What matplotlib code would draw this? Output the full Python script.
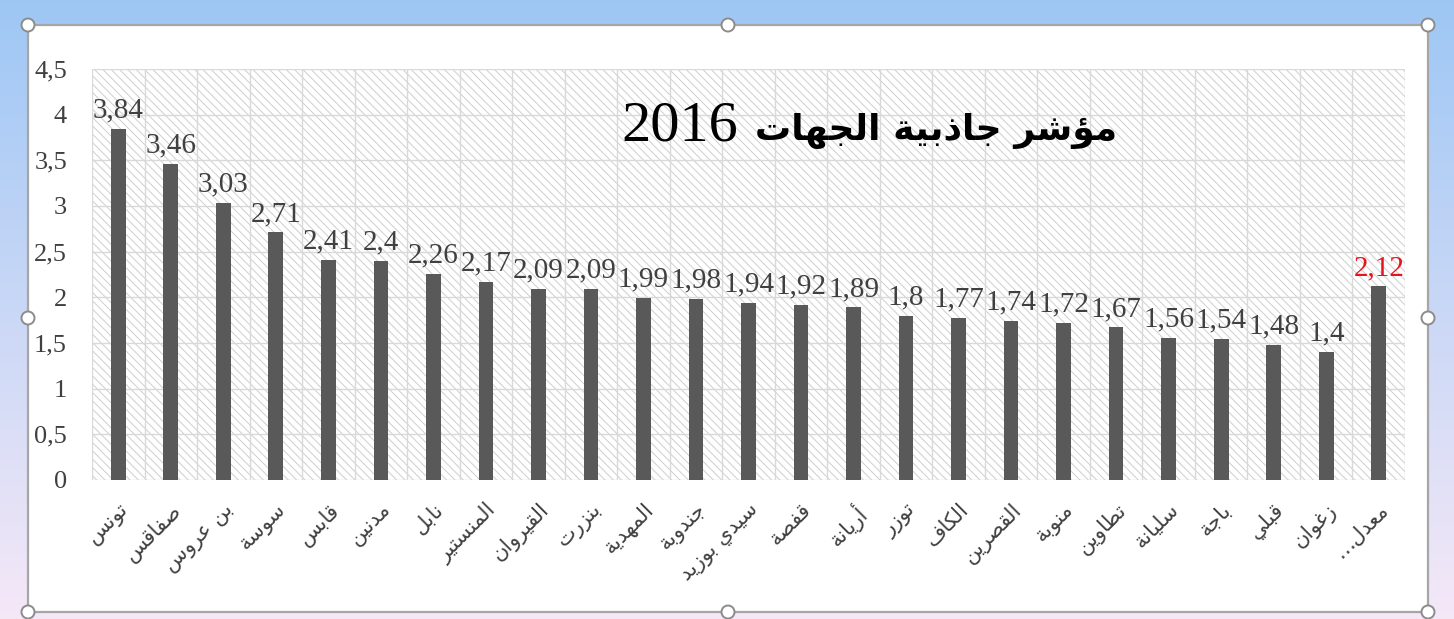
import numpy as np
import matplotlib
matplotlib.use('Agg')
import matplotlib.pyplot as plt
from matplotlib.patches import Rectangle, Circle

# data
regions = ['تونس', 'صفاقس', 'بن عروس', 'سوسة', 'قابس', 'مدنين', 'نابل', 'المنستير',
           'القيروان', 'بنزرت', 'المهدية', 'جندوبة', 'سيدي بوزيد', 'قفصة', 'أريانة',
           'توزر', 'الكاف', 'القصرين', 'منوبة', 'تطاوين', 'سليانة', 'باجة', 'قبلي',
           'زغوان', 'معدل…']
scores = [3.84, 3.46, 3.03, 2.71, 2.41, 2.4, 2.26, 2.17, 2.09, 2.09, 1.99, 1.98,
          1.94, 1.92, 1.89, 1.8, 1.77, 1.74, 1.72, 1.67, 1.56, 1.54, 1.48, 1.4, 2.12]
title_ar = 'مؤشر جاذبية الجهات'
title_year = '2016'
yticks = [0, 0.5, 1, 1.5, 2, 2.5, 3, 3.5, 4, 4.5]

# matplotlib has no arabic shaping, so map letters to presentation forms by hand
FORMS = {
    'ا': ('\uFE8D', '\uFE8E'), 'أ': ('\uFE83', '\uFE84'), 'ؤ': ('\uFE85', '\uFE86'),
    'ب': ('\uFE8F', '\uFE90', '\uFE91', '\uFE92'), 'ة': ('\uFE93', '\uFE94'),
    'ت': ('\uFE95', '\uFE96', '\uFE97', '\uFE98'), 'ج': ('\uFE9D', '\uFE9E', '\uFE9F', '\uFEA0'),
    'د': ('\uFEA9', '\uFEAA'), 'ذ': ('\uFEAB', '\uFEAC'), 'ر': ('\uFEAD', '\uFEAE'),
    'ز': ('\uFEAF', '\uFEB0'), 'س': ('\uFEB1', '\uFEB2', '\uFEB3', '\uFEB4'),
    'ش': ('\uFEB5', '\uFEB6', '\uFEB7', '\uFEB8'), 'ص': ('\uFEB9', '\uFEBA', '\uFEBB', '\uFEBC'),
    'ط': ('\uFEC1', '\uFEC2', '\uFEC3', '\uFEC4'), 'ع': ('\uFEC9', '\uFECA', '\uFECB', '\uFECC'),
    'غ': ('\uFECD', '\uFECE', '\uFECF', '\uFED0'), 'ف': ('\uFED1', '\uFED2', '\uFED3', '\uFED4'),
    'ق': ('\uFED5', '\uFED6', '\uFED7', '\uFED8'), 'ك': ('\uFED9', '\uFEDA', '\uFEDB', '\uFEDC'),
    'ل': ('\uFEDD', '\uFEDE', '\uFEDF', '\uFEE0'), 'م': ('\uFEE1', '\uFEE2', '\uFEE3', '\uFEE4'),
    'ن': ('\uFEE5', '\uFEE6', '\uFEE7', '\uFEE8'), 'ه': ('\uFEE9', '\uFEEA', '\uFEEB', '\uFEEC'),
    'و': ('\uFEED', '\uFEEE'), 'ي': ('\uFEF1', '\uFEF2', '\uFEF3', '\uFEF4'),
}
LAM_ALEF = {'ا': ('\uFEFB', '\uFEFC'), 'أ': ('\uFEF7', '\uFEF8')}


def shape(word):
    out = []
    i = 0
    while i < len(word):
        c = word[i]
        if c not in FORMS:
            out.append(c)
            i += 1
            continue
        prev = word[i - 1] if i > 0 else ''
        joins_prev = prev in FORMS and len(FORMS[prev]) == 4
        if c == 'ل' and i + 1 < len(word) and word[i + 1] in LAM_ALEF:
            out.append(LAM_ALEF[word[i + 1]][1 if joins_prev else 0])
            i += 2
            continue
        nxt = word[i + 1] if i + 1 < len(word) else ''
        joins_next = len(FORMS[c]) == 4 and nxt in FORMS
        f = FORMS[c]
        if joins_prev and joins_next:
            out.append(f[3])
        elif joins_prev:
            out.append(f[1])
        elif joins_next:
            out.append(f[2])
        else:
            out.append(f[0])
        i += 1
    return ''.join(out)[::-1]


W, H = 1454, 619
fig = plt.figure(figsize=(W / 100, H / 100), dpi=100)

# window background + white chart panel with selection handles
bg = fig.add_axes([0, 0, 1, 1])
top = np.array([0.62, 0.78, 0.96])
bot = np.array([0.96, 0.91, 0.97])
t = np.linspace(0, 1, 200)[:, None]
grad = (top * (1 - t) + bot * t)[:, None, :]
bg.imshow(grad, extent=[0, W, H, 0], aspect='auto', zorder=0)
bg.add_patch(Rectangle((28, 25), 1400, 587, facecolor='white', edgecolor='#a6a6a6', lw=1.6, zorder=1))
for hx in [28, 728, 1428]:
    for hy in [25, 318, 612]:
        if hx == 728 and hy == 318:
            continue
        bg.add_patch(Circle((hx, hy), 6.5, facecolor='white', edgecolor='#8c8c8c', lw=1.4, zorder=3))
bg.set_xlim(0, W)
bg.set_ylim(H, 0)
bg.axis('off')

# plot area
left, right, ytop, ybot = 92, 1405, 69, 480
ax = fig.add_axes([left / W, 1 - ybot / H, (right - left) / W, (ybot - ytop) / H])
ax.set_facecolor('white')
plt.rcParams['hatch.linewidth'] = 0.7
ax.add_patch(Rectangle((0, 0), 1, 1, transform=ax.transAxes, facecolor='white',
                       edgecolor='#cfcfcf', hatch='\\\\\\\\', lw=0, zorder=0))

x = np.arange(len(regions))
ax.bar(x, scores, width=0.28, color='#595959', zorder=3)

ax.set_xlim(-0.5, len(regions) - 0.5)
ax.set_ylim(0, 4.5)
ax.set_yticks(yticks)
ax.set_yticklabels([f'{v:g}'.replace('.', ',') for v in yticks],
                   fontfamily='Liberation Serif', fontsize=19, color='#404040')
ax.set_xticks(x)
ax.set_xticklabels([shape(r) for r in regions], rotation=45, ha='right', va='top',
                   rotation_mode='anchor', fontfamily='DejaVu Sans', fontsize=15, color='#404040')
ax.set_xticks(np.arange(-0.5, len(regions), 1), minor=True)
ax.tick_params(axis='both', which='both', length=0)
ax.tick_params(axis='x', pad=14)
ax.tick_params(axis='y', pad=18)
ax.grid(True, which='minor', axis='x', color='#d9d9d9', lw=1, zorder=1)
ax.grid(True, which='major', axis='y', color='#d9d9d9', lw=1, zorder=1)
for s in ax.spines.values():
    s.set_visible(False)

for i, v in enumerate(scores):
    col = '#e8141c' if i == len(scores) - 1 else '#404040'
    ax.text(i, v + 0.06, f'{v:g}'.replace('.', ','), ha='center', va='bottom',
            fontfamily='Liberation Serif', fontsize=21, color=col, zorder=4)

# title, drawn inside the plot area
fig.text(738 / W, 1 - 140 / H, title_year, ha='right', va='baseline',
         fontfamily='Liberation Serif', fontsize=42, color='black')
fig.text(755 / W, 1 - 140 / H, shape(title_ar), ha='left', va='baseline',
         fontfamily='DejaVu Sans', fontweight='bold', fontsize=26, color='black')

fig.savefig('out.png', dpi=100)
